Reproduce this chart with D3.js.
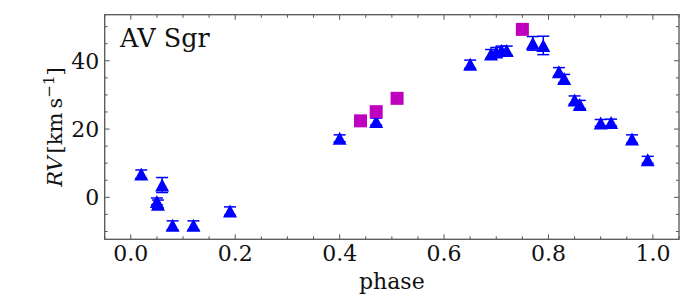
<!DOCTYPE html>
<html>
<head>
<meta charset="utf-8">
<script src="https://cdn.jsdelivr.net/npm/d3@7"></script>
<style>
  body { margin: 0; background: #fff; }
  svg { display: block; font-family: "DejaVu Serif", serif; }
</style>
</head>
<body>
<div id="chart"></div>
<script>
// Radial velocity curve of AV Sgr

// blue triangles (with error bars)
const triPhase = [0.02, 0.05, 0.052, 0.06, 0.08, 0.12, 0.19, 0.40, 0.47, 0.65, 0.69, 0.70, 0.71, 0.72, 0.77, 0.79, 0.82, 0.83, 0.85, 0.86, 0.90, 0.92, 0.96, 0.99];
const triRV    = [6.8, -1.2, -2.0, 3.6, -8.2, -8.2, -4.0, 17.3, 22.2, 39.0, 42.0, 42.6, 43.0, 43.0, 45.1, 44.5, 36.8, 34.8, 28.5, 27.2, 21.8, 21.9, 17.1, 11.0];
const triErr   = [1.2, 1.0, 1.2, 2.2, 1.3, 1.3, 1.2, 1.0, 1.0, 1.2, 1.3, 1.3, 1.3, 1.3, 2.0, 2.7, 1.2, 1.2, 1.2, 1.2, 1.0, 1.0, 1.2, 1.0];

// magenta squares
const sqPhase = [0.44, 0.47, 0.51, 0.75];
const sqRV    = [22.4, 25.1, 29.0, 49.2];

const xMajor = [0, 0.2, 0.4, 0.6, 0.8, 1.0];
const yMajor = [0, 20, 40];

const width = 700, height = 300;
const margin = { top: 14.7, right: 21, bottom: 60.7, left: 104.7 };

const svg = d3.select("#chart").append("svg")
  .attr("width", width)
  .attr("height", height);

const x = d3.scaleLinear()
  .domain([-0.05, 1.05])
  .range([margin.left, width - margin.right]);

const y = d3.scaleLinear()
  .domain([-12.3, 53.5])
  .range([height - margin.bottom, margin.top]);

const frameColor = "#555";
const x0 = margin.left, x1 = width - margin.right;
const y0 = height - margin.bottom, y1 = margin.top;

// minor tick positions
const xMinor = d3.range(-0.05, 1.051, 0.05).filter(v => !xMajor.some(m => Math.abs(m - v) < 1e-6));
const yMinor = d3.range(-10, 53, 5).filter(v => !yMajor.includes(v));

// ticks on all four sides, pointing inward
const ticks = svg.append("g").attr("stroke", frameColor).attr("stroke-width", 1);
function tickX(vals, len) {
  vals.forEach(v => {
    ticks.append("line").attr("x1", x(v)).attr("x2", x(v)).attr("y1", y0).attr("y2", y0 - len);
    ticks.append("line").attr("x1", x(v)).attr("x2", x(v)).attr("y1", y1).attr("y2", y1 + len);
  });
}
function tickY(vals, len) {
  vals.forEach(v => {
    ticks.append("line").attr("y1", y(v)).attr("y2", y(v)).attr("x1", x0).attr("x2", x0 + len);
    ticks.append("line").attr("y1", y(v)).attr("y2", y(v)).attr("x1", x1).attr("x2", x1 - len);
  });
}
tickX(xMajor, 5);
tickX(xMinor, 3);
tickY(yMajor, 5);
tickY(yMinor, 3);

// tick labels
svg.append("g").selectAll("text")
  .data(xMajor)
  .join("text")
  .attr("x", d => x(d))
  .attr("y", y0 + 21.5)
  .attr("text-anchor", "middle")
  .attr("font-size", 22)
  .attr("fill", "#111")
  .text(d => d3.format(".1f")(d));

svg.append("g").selectAll("text")
  .data(yMajor)
  .join("text")
  .attr("x", x0 - 5.5)
  .attr("y", d => y(d))
  .attr("dy", "0.36em")
  .attr("text-anchor", "end")
  .attr("font-size", 22)
  .attr("fill", "#111")
  .text(d => d);

// axis labels
svg.append("text")
  .attr("x", (x0 + x1) / 2)
  .attr("y", 289)
  .attr("text-anchor", "middle")
  .attr("font-size", 22)
  .attr("fill", "#111")
  .text("phase");

const yLab = svg.append("text")
  .attr("transform", `translate(62,${(y0 + y1) / 2}) rotate(-90)`)
  .attr("text-anchor", "middle")
  .attr("font-size", 21)
  .attr("fill", "#111");
yLab.append("tspan").attr("font-style", "italic").text("RV");
yLab.append("tspan").attr("dx", 3).text("[km\u2009s");
yLab.append("tspan").attr("dy", -8).attr("font-size", 15).text("\u22121");
yLab.append("tspan").attr("dy", 8).text("]");

// star name
svg.append("text")
  .attr("x", 120)
  .attr("y", 46.7)
  .attr("font-size", 25.5)
  .attr("fill", "#111")
  .text("AV Sgr");

// error bars
const blue = "#0000ff";
const eb = svg.append("g").attr("stroke", blue).attr("stroke-width", 1.5);
triPhase.forEach((p, i) => {
  const cx = x(p), lo = y(triRV[i] - triErr[i]), hi = y(triRV[i] + triErr[i]);
  eb.append("line").attr("x1", cx).attr("x2", cx).attr("y1", lo).attr("y2", hi);
  eb.append("line").attr("x1", cx - 6).attr("x2", cx + 6).attr("y1", lo).attr("y2", lo);
  eb.append("line").attr("x1", cx - 6).attr("x2", cx + 6).attr("y1", hi).attr("y2", hi);
});

// triangles
svg.append("g").selectAll("path")
  .data(triPhase.map((p, i) => [p, triRV[i]]))
  .join("path")
  .attr("d", "M0,-6.5L7,6.5L-7,6.5Z")
  .attr("transform", d => `translate(${x(d[0])},${y(d[1])})`)
  .attr("fill", blue);

// squares
svg.append("g").selectAll("rect")
  .data(sqPhase.map((p, i) => [p, sqRV[i]]))
  .join("rect")
  .attr("x", d => x(d[0]) - 6.5)
  .attr("y", d => y(d[1]) - 6.5)
  .attr("width", 13)
  .attr("height", 13)
  .attr("fill", "#bf00bf");

// frame
svg.append("rect")
  .attr("x", x0).attr("y", y1)
  .attr("width", x1 - x0).attr("height", y0 - y1)
  .attr("fill", "none")
  .attr("stroke", frameColor)
  .attr("stroke-width", 1.3);
</script>
</body>
</html>
